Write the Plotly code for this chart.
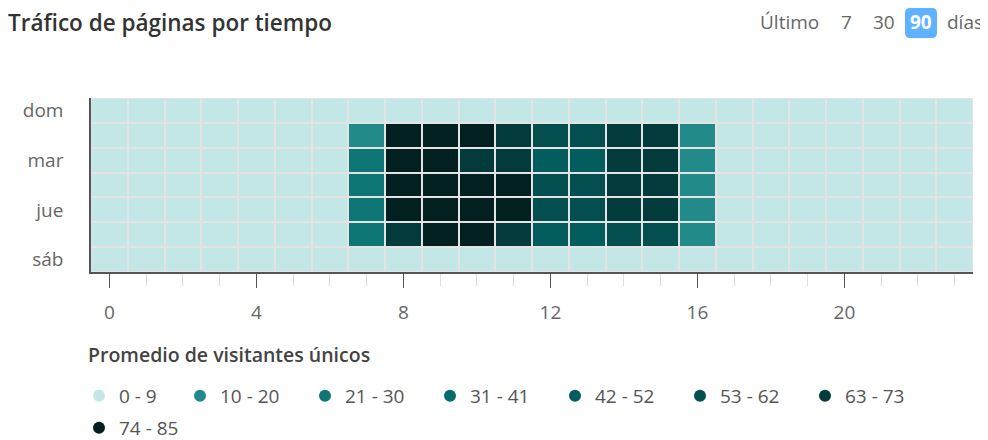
import numpy as np
import plotly.graph_objects as go

dias = ['dom', 'lun', 'mar', 'mié', 'jue', 'vie', 'sáb']
horas = list(range(24))

# promedio de visitantes unicos por dia (fila) y hora (columna)
dom = [1, 1, 0, 0, 0, 1, 2, 5, 7, 8, 8, 7, 6, 6, 5, 4, 3, 2, 2, 1, 1, 1, 1, 0]
lun = [1, 0, 0, 0, 1, 2, 4, 15, 80, 82, 78, 70, 58, 60, 68, 65, 18, 6, 3, 2, 1, 1, 1, 0]
mar = [1, 0, 0, 0, 1, 2, 4, 25, 79, 77, 69, 66, 48, 50, 66, 64, 17, 6, 3, 2, 1, 1, 1, 0]
mie = [1, 0, 0, 0, 1, 2, 4, 26, 81, 84, 76, 75, 57, 59, 67, 66, 19, 7, 3, 2, 1, 1, 1, 0]
jue = [1, 0, 0, 0, 1, 2, 4, 27, 82, 80, 78, 76, 58, 56, 68, 66, 18, 6, 3, 2, 1, 1, 1, 0]
vie = [1, 0, 0, 0, 1, 2, 3, 24, 71, 77, 75, 65, 47, 49, 58, 55, 16, 5, 3, 2, 1, 1, 1, 0]
sab = [1, 1, 0, 0, 0, 1, 2, 4, 6, 7, 8, 7, 6, 5, 5, 4, 3, 2, 2, 1, 1, 1, 1, 0]

rangos = ['0 - 9', '10 - 20', '21 - 30', '31 - 41', '42 - 52', '53 - 62', '63 - 73', '74 - 85']
limites = [0, 10, 21, 31, 42, 53, 63, 74]
colores = ['#c3e7e7', '#228b89', '#0e7775', '#046c6a', '#045d5d', '#034f50', '#033a3b', '#022020']

periodos = ['7', '30', '90']

valores = np.array([dom, lun, mar, mie, jue, vie, sab])
clase = np.digitize(valores, limites) - 1

# la pagina tiene 8px de margen en el body, la figura se ajusta a eso
OFF = 8
W, H = 988 - OFF, 440 - OFF
L, R, T, B = 83, 15, 90, 168
pw, ph = W - L - R, H - T - B


def px(x):
    # x en pixeles de la pagina -> fraccion del area de trazado
    return (x - OFF - L) / pw


def py(y):
    return (H - B - (y - OFF)) / ph


n = len(colores)
escala = []
for i, c in enumerate(colores):
    escala.append([i / n, c])
    escala.append([(i + 1) / n, c])

fig = go.Figure()
fig.add_trace(go.Heatmap(
    z=clase, x=horas, y=dias, customdata=valores,
    colorscale=escala, zmin=-0.5, zmax=n - 0.5, showscale=False,
    xgap=2, ygap=2,
    hovertemplate='%{y} %{x}h: %{customdata}<extra></extra>'))

# leyenda con circulos (repartida en tres bloques para imitar el ajuste de lineas)
grupos = ['legend'] + ['legend2'] * 6 + ['legend3']
for nombre, c, g in zip(rangos, colores, grupos):
    fig.add_trace(go.Scatter(x=[None], y=[None], mode='markers', name=nombre, legend=g,
                             marker=dict(symbol='circle', size=16, color=c)))

fig.update_xaxes(range=[-0.5, 23.5], tickvals=[0, 4, 8, 12, 16, 20], ticks='outside',
                 ticklen=14, tickcolor='#555', showline=True, linecolor='#555', linewidth=1.5,
                 showgrid=False, zeroline=False, ticklabelstandoff=8,
                 minor=dict(tickvals=horas, ticks='outside', ticklen=12, tickcolor='#dddddd'),
                 tickfont=dict(size=19, color='#666'))
fig.update_yaxes(autorange='reversed', tickvals=['dom', 'mar', 'jue', 'sáb'], showline=True,
                 linecolor='#555', linewidth=1.5, showgrid=False, zeroline=False,
                 ticklabelstandoff=22, tickfont=dict(size=19, color='#666'))

leg_font = dict(size=19, color='#555')
fig.update_layout(
    width=W, height=H,
    margin=dict(l=L, r=R, t=T, b=B, autoexpand=False),
    plot_bgcolor='#e4e4e4', paper_bgcolor='white',
    font=dict(family='Open Sans', color='#666'),
    title=dict(text='Tráfico de páginas por tiempo', x=0, xanchor='left', y=1 - 15 / H, yanchor='middle',
               font=dict(size=22.5, color='#333', weight=600)),
    legend=dict(orientation='h', x=px(79), xanchor='left', y=py(396), yanchor='middle',
                font=leg_font, itemsizing='constant'),
    legend2=dict(orientation='h', x=px(180), xanchor='left', y=py(396), yanchor='middle',
                 font=leg_font, entrywidth=80, itemsizing='constant'),
    legend3=dict(orientation='h', x=px(79), xanchor='left', y=py(428), yanchor='middle',
                 font=leg_font, itemsizing='constant'),
    showlegend=True,
)

# titulo de la leyenda
fig.add_annotation(text='Promedio de visitantes únicos', xref='paper', yref='paper', x=px(86), y=py(354),
                   xanchor='left', yanchor='middle', showarrow=False,
                   font=dict(size=19.5, color='#444', weight=600))

# selector de periodo
yc = py(22)
fig.add_annotation(text='Último', xref='paper', yref='paper', x=px(821), y=yc, xanchor='right',
                   yanchor='middle', showarrow=False, font=dict(size=19, color='#666'))
for txt, cx in zip(periodos, [846, 884, 921]):
    color = 'white' if txt == '90' else '#666'
    label = '<b>%s</b>' % txt if txt == '90' else txt
    fig.add_annotation(text=label, xref='paper', yref='paper', x=px(cx), y=yc, xanchor='center',
                       yanchor='middle', showarrow=False, font=dict(size=19, color=color))
fig.add_annotation(text='días', xref='paper', yref='paper', x=px(985), y=yc, xanchor='right',
                   yanchor='middle', showarrow=False, font=dict(size=19, color='#666'))

# caja redondeada del periodo activo
x0, x1, y0, y1, r = 905, 937, 8, 38, 5
path = ('M {a},{b} L {c},{b} Q {x1},{b} {x1},{d} L {x1},{e} Q {x1},{y1} {c},{y1} '
        'L {a},{y1} Q {x0},{y1} {x0},{e} L {x0},{d} Q {x0},{b} {a},{b} Z').format(
    a=px(x0 + r), c=px(x1 - r), b=py(y0), d=py(y0 + r), e=py(y1 - r),
    x0=px(x0), x1=px(x1), y1=py(y1))
fig.add_shape(type='path', path=path, xref='paper', yref='paper', fillcolor='#5fb2ff',
              line=dict(width=0), layer='below')

fig.write_html('out.html')
